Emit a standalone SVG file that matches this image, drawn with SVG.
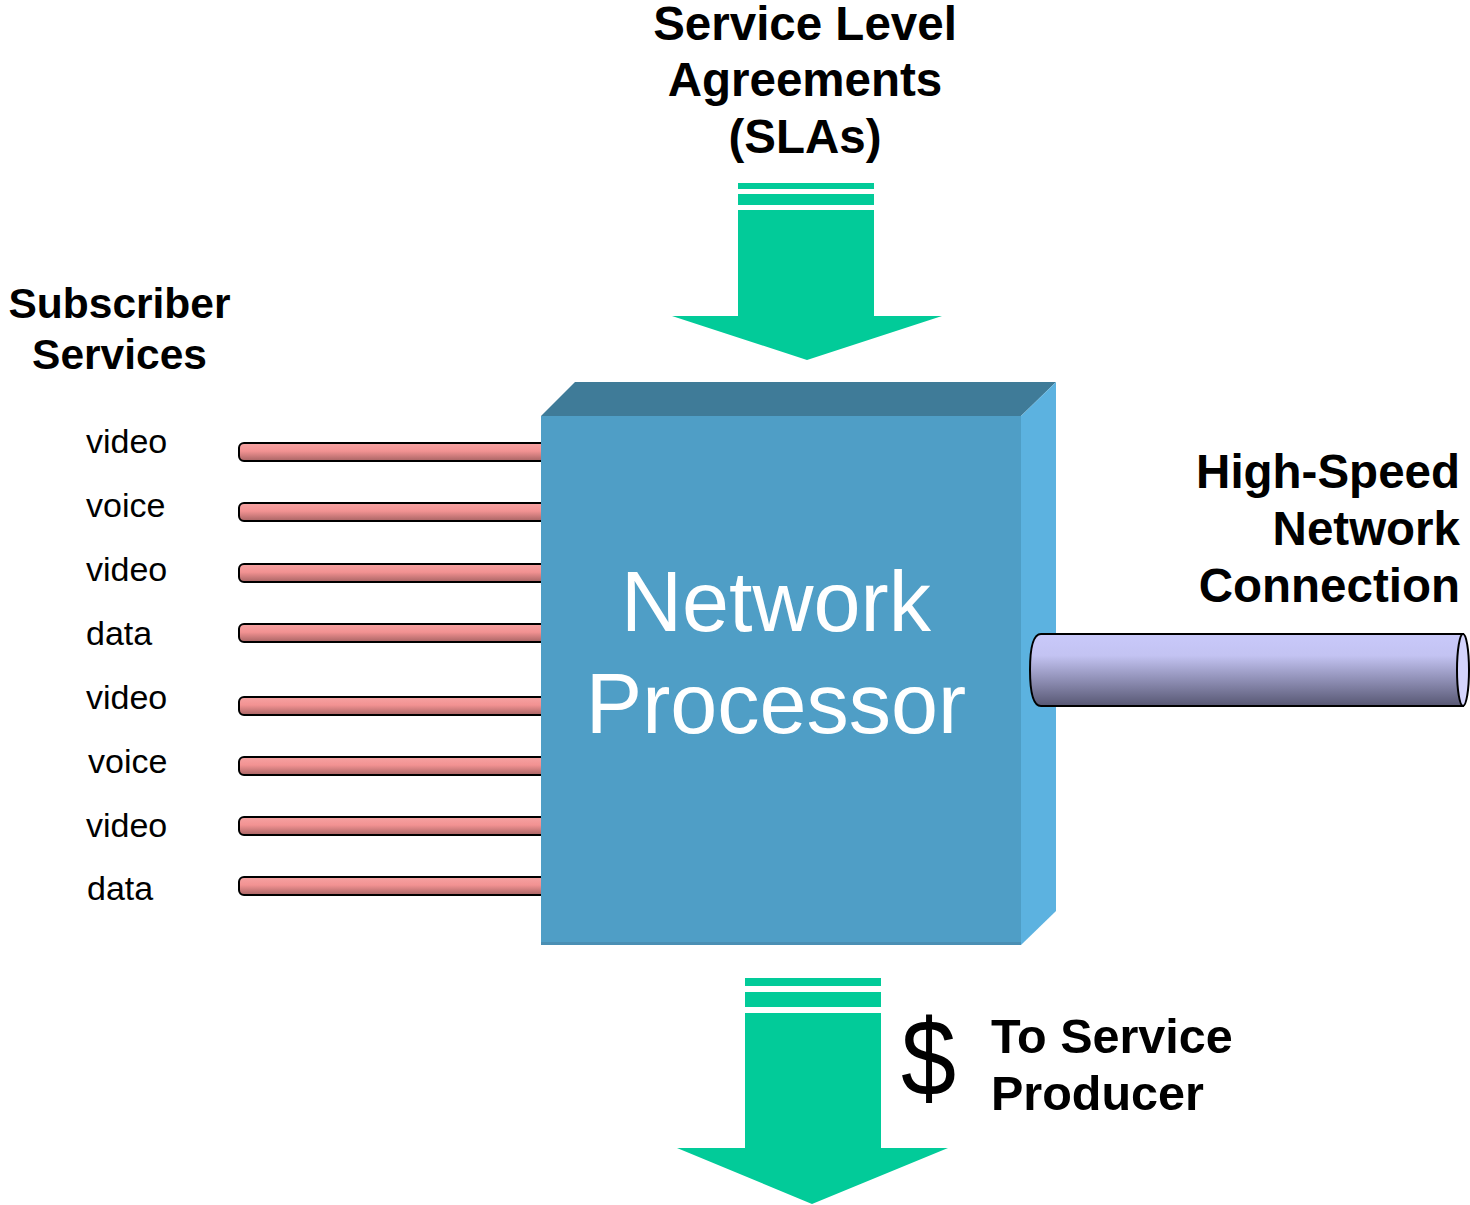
<svg xmlns="http://www.w3.org/2000/svg" width="1470" height="1205" viewBox="0 0 1470 1205">
<defs>
<linearGradient id="pink" x1="0" y1="0" x2="0" y2="1">
<stop offset="0" stop-color="#f7a3a3"/>
<stop offset="0.45" stop-color="#f29292"/>
<stop offset="1" stop-color="#a86464"/>
</linearGradient>
<linearGradient id="cyl" x1="0" y1="0" x2="0" y2="1">
<stop offset="0" stop-color="#c9c9fa"/>
<stop offset="0.3" stop-color="#c3c3f2"/>
<stop offset="1" stop-color="#575773"/>
</linearGradient>
<style>
.bold{font-family:"Liberation Sans",Arial,sans-serif;font-weight:bold;fill:#000}
.reg{font-family:"Liberation Sans",Arial,sans-serif;fill:#000;font-size:34px}
.green{fill:#02cb99}
.pipe{fill:url(#pink);stroke:#000;stroke-width:2}
</style>
</defs>
<rect width="1470" height="1205" fill="#fff"/>

<g id="sla-label">
<text class="bold" font-size="47.5" text-anchor="middle" x="805" y="40">Service Level</text>
<text class="bold" font-size="47.5" text-anchor="middle" x="805" y="96">Agreements</text>
<text class="bold" font-size="47.5" text-anchor="middle" x="805" y="153">(SLAs)</text>
</g>

<g id="sla-arrow">
<rect class="green" x="738" y="183" width="136" height="6"/>
<rect class="green" x="738" y="194" width="136" height="11"/>
<polygon class="green" points="738,210 874,210 874,316 942,316 807,360 672,316 738,316"/>
</g>

<g id="subscriber-label">
<text class="bold" font-size="42.5" text-anchor="middle" x="119.5" y="318">Subscriber</text>
<text class="bold" font-size="42.5" text-anchor="middle" x="119.5" y="369">Services</text>
</g>

<g id="connectors">
<rect class="pipe" x="239" y="443" width="310" height="18" rx="5"/>
<rect class="pipe" x="239" y="503" width="310" height="18" rx="5"/>
<rect class="pipe" x="239" y="564" width="310" height="18" rx="5"/>
<rect class="pipe" x="239" y="624" width="310" height="18" rx="5"/>
<rect class="pipe" x="239" y="697" width="310" height="18" rx="5"/>
<rect class="pipe" x="239" y="757" width="310" height="18" rx="5"/>
<rect class="pipe" x="239" y="817" width="310" height="18" rx="5"/>
<rect class="pipe" x="239" y="877" width="310" height="18" rx="5"/>
</g>

<g id="service-labels">
<text class="reg" x="86" y="453">video</text>
<text class="reg" x="86" y="517">voice</text>
<text class="reg" x="86" y="581">video</text>
<text class="reg" x="86" y="645">data</text>
<text class="reg" x="86" y="709">video</text>
<text class="reg" x="88" y="773">voice</text>
<text class="reg" x="86" y="837">video</text>
<text class="reg" x="87" y="900">data</text>
</g>

<g id="network-processor">
<polygon fill="#3f7b98" points="541,416 575,382 1056,382 1021,416"/>
<polygon fill="#5cb2e0" points="1021,416 1056,382 1056,911 1021,945"/>
<rect x="541" y="416" width="480" height="529" fill="#4f9ec6"/>
<rect x="541" y="942" width="480" height="3" fill="#4a8fb4"/>
<text font-family="Liberation Sans, Arial, sans-serif" font-size="84.5" fill="#fff" text-anchor="middle" x="776" y="631">Network</text>
<text font-family="Liberation Sans, Arial, sans-serif" font-size="84.5" fill="#fff" text-anchor="middle" x="776" y="733">Processor</text>
</g>

<g id="high-speed-label">
<text class="bold" font-size="47.5" text-anchor="end" x="1460" y="488">High-Speed</text>
<text class="bold" font-size="47.5" text-anchor="end" x="1460" y="545">Network</text>
<text class="bold" font-size="47.5" text-anchor="end" x="1460" y="602">Connection</text>
</g>

<g id="high-speed-connection">
<path d="M1041,634 L1463,634 L1463,706 L1041,706 Q1030,706 1030,670 Q1030,634 1041,634 Z" fill="url(#cyl)" stroke="#000" stroke-width="2"/>
<ellipse cx="1463" cy="670" rx="6" ry="36" fill="#d4d4fc" stroke="#000" stroke-width="2"/>
</g>

<g id="producer-arrow">
<rect class="green" x="745" y="978" width="136" height="8"/>
<rect class="green" x="745" y="992" width="136" height="15"/>
<polygon class="green" points="745,1013 881,1013 881,1148 948,1148 812,1204 677,1148 745,1148"/>
</g>

<g id="producer-label">
<text font-family="Liberation Sans, Arial, sans-serif" font-size="110" fill="#000" transform="translate(901,1096) scale(0.9,1)">$</text>
<text class="bold" font-size="48.5" x="991" y="1053">To Service</text>
<text class="bold" font-size="48.5" x="991" y="1110">Producer</text>
</g>
</svg>
